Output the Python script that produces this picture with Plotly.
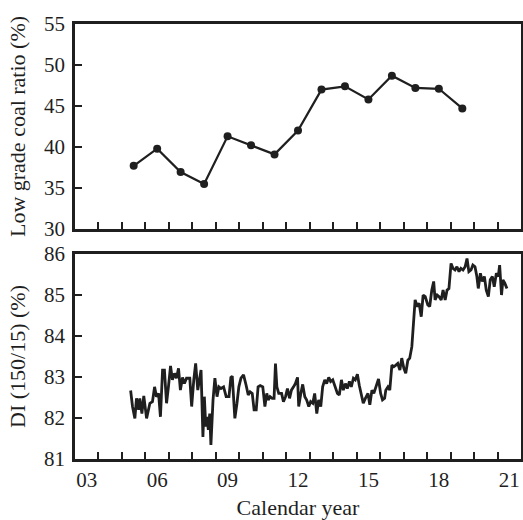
import plotly.graph_objects as go
from plotly.subplots import make_subplots

# ---- Top panel: low grade coal ratio (annual) ----
coal_years = [2005.5, 2006.5, 2007.5, 2008.5, 2009.5, 2010.5, 2011.5, 2012.5,
              2013.5, 2014.5, 2015.5, 2016.5, 2017.5, 2018.5, 2019.5]
coal_ratio = [37.7, 39.8, 36.95, 35.5, 41.3, 40.2, 39.1, 42.0,
              47.0, 47.4, 45.8, 48.7, 47.2, 47.1, 44.7]

# ---- Bottom panel: DI(150/15) ----
di_time = [2005.37, 2005.45, 2005.55, 2005.62, 2005.71, 2005.76, 2005.85, 2005.93,
           2006.05, 2006.19, 2006.30, 2006.39, 2006.47, 2006.56, 2006.64, 2006.73,
           2006.81, 2006.90, 2006.98, 2007.07, 2007.15, 2007.24, 2007.32, 2007.41,
           2007.49, 2007.58, 2007.66, 2007.75, 2007.89, 2007.97, 2008.06, 2008.14,
           2008.23, 2008.28, 2008.37, 2008.45, 2008.51, 2008.57, 2008.62, 2008.68,
           2008.74, 2008.79, 2008.88, 2008.96, 2009.05, 2009.13, 2009.22, 2009.33,
           2009.44, 2009.56, 2009.64, 2009.70, 2009.81, 2009.90, 2009.98, 2010.07,
           2010.18, 2010.29, 2010.38, 2010.46, 2010.55, 2010.63, 2010.72, 2010.80,
           2010.89, 2011.00, 2011.09, 2011.17, 2011.23, 2011.31, 2011.40, 2011.48,
           2011.54, 2011.60, 2011.68, 2011.80, 2011.88, 2011.97, 2012.05, 2012.14,
           2012.22, 2012.31, 2012.39, 2012.48, 2012.53, 2012.62, 2012.70, 2012.79,
           2012.87, 2012.96, 2013.04, 2013.13, 2013.21, 2013.30, 2013.38, 2013.47,
           2013.55, 2013.64, 2013.72, 2013.81, 2013.89, 2013.98, 2014.09, 2014.18,
           2014.26, 2014.35, 2014.43, 2014.52, 2014.60, 2014.69, 2014.77, 2014.86,
           2014.94, 2015.03, 2015.11, 2015.20, 2015.28, 2015.37, 2015.48, 2015.56,
           2015.65, 2015.73, 2015.82, 2015.93, 2016.02, 2016.10, 2016.19, 2016.24,
           2016.33, 2016.41, 2016.50, 2016.58, 2016.67, 2016.75, 2016.84, 2016.92,
           2017.01, 2017.09, 2017.18, 2017.26, 2017.35, 2017.43, 2017.49, 2017.58,
           2017.66, 2017.75, 2017.83, 2017.92, 2018.03, 2018.11, 2018.20, 2018.28,
           2018.34, 2018.43, 2018.51, 2018.60, 2018.68, 2018.77, 2018.85, 2018.93,
           2019.02, 2019.10, 2019.19, 2019.27, 2019.36, 2019.44, 2019.53, 2019.62,
           2019.70, 2019.78, 2019.87, 2019.95, 2020.04, 2020.12, 2020.18, 2020.27,
           2020.35, 2020.44, 2020.52, 2020.61, 2020.69, 2020.78, 2020.86, 2020.95,
           2021.03, 2021.09, 2021.17, 2021.23, 2021.31, 2021.40]
di_value = [82.67, 82.28, 81.99, 82.48, 82.20, 82.48, 82.11, 82.54,
            81.99, 82.36, 82.40, 82.76, 82.52, 82.60, 82.03, 83.17,
            83.17, 82.36, 82.76, 83.27, 82.93, 83.09, 82.97, 83.21,
            82.68, 82.99, 82.84, 82.97, 82.97, 82.28, 82.93, 83.33,
            82.68, 82.89, 83.17, 81.54, 82.52, 81.79, 82.03, 81.71,
            82.11, 81.34, 82.44, 82.97, 82.52, 82.76, 82.72, 82.76,
            82.52, 82.52, 82.99, 83.02, 81.99, 82.36, 82.76, 82.97,
            83.05, 82.80, 82.56, 82.64, 82.60, 82.20, 82.20, 82.76,
            82.79, 82.76, 82.28, 82.60, 82.44, 82.52, 82.48, 82.48,
            83.33, 82.76, 82.60, 82.60, 82.40, 82.52, 82.72, 82.48,
            82.68, 82.76, 82.84, 82.99, 82.28, 82.60, 82.82, 82.52,
            82.44, 82.28, 82.40, 82.36, 82.60, 82.11, 82.44, 82.28,
            82.76, 82.93, 82.84, 82.99, 82.89, 82.93, 82.76, 82.60,
            82.56, 82.93, 82.68, 82.84, 82.72, 82.89, 82.76, 82.97,
            82.93, 83.07, 82.80, 82.52, 82.36, 82.48, 82.60, 82.32,
            82.68, 82.60, 82.76, 82.95, 82.60, 82.44, 82.48, 82.68,
            82.76, 82.68, 83.29, 83.25, 83.29, 83.33, 83.17, 83.46,
            83.21, 83.09, 83.41, 83.46, 83.74, 84.47, 84.88, 84.72,
            84.80, 84.47, 85.00, 84.96, 84.76, 84.72, 85.12, 85.33,
            84.88, 85.00, 84.96, 84.88, 85.12, 84.88, 85.12, 85.16,
            85.77, 85.65, 85.61, 85.69, 85.57, 85.65, 85.61, 85.69,
            85.89, 85.57, 85.61, 85.73, 85.69, 85.45, 85.16, 85.53,
            85.33, 85.45, 85.12, 84.96, 85.37, 85.45, 85.20, 85.53,
            85.45, 85.73, 85.00, 85.37, 85.29, 85.16]

# ---- Axis ticks ----
year_ticks = list(range(2004, 2022))
label_pos = [2003.5, 2006.5, 2009.5, 2012.5, 2015.5, 2018.5, 2021.5]
label_text = ["03", "06", "09", "12", "15", "18", "21"]

INK = "#1f1f1f"
FONT = "Liberation Serif"

fig = make_subplots(rows=2, cols=1, vertical_spacing=0.0575, shared_xaxes=False)

fig.add_trace(go.Scatter(x=coal_years, y=coal_ratio, mode="lines+markers",
                         line=dict(color=INK, width=2.2),
                         marker=dict(color=INK, size=8),
                         showlegend=False), row=1, col=1)
fig.add_trace(go.Scatter(x=di_time, y=di_value, mode="lines",
                         line=dict(color=INK, width=2.8),
                         showlegend=False), row=2, col=1)

common_x = dict(range=[2003, 2022], showgrid=False, zeroline=False,
                showline=True, linecolor=INK, linewidth=2.5, mirror=True,
                tickmode="array", tickvals=label_pos, ticktext=label_text,
                ticks="", ticklen=0, automargin=False,
                minor=dict(tickmode="array", tickvals=year_ticks, ticks="inside",
                           ticklen=7, tickwidth=1.5, tickcolor=INK, showgrid=False),
                tickfont=dict(family=FONT, size=21, color=INK))
fig.update_xaxes(**common_x)
fig.update_xaxes(showticklabels=False, row=1, col=1)
fig.update_xaxes(title=dict(text="Calendar year", font=dict(family=FONT, size=22, color=INK),
                            standoff=13), row=2, col=1)

common_y = dict(showgrid=False, zeroline=False, showline=True, linecolor=INK,
                linewidth=2.5, mirror=True, ticks="inside", ticklen=7,
                tickwidth=1.5, tickcolor=INK, automargin=False, ticklabelstandoff=3,
                tickfont=dict(family=FONT, size=21, color=INK))
fig.update_yaxes(**common_y)
fig.update_yaxes(range=[30, 55], dtick=5, tick0=30,
                 title=dict(text="Low grade coal ratio (%)",
                            font=dict(family=FONT, size=22, color=INK), standoff=13),
                 row=1, col=1)
fig.update_yaxes(range=[81, 86], dtick=1, tick0=81,
                 title=dict(text="DI (150/15) (%)",
                            font=dict(family=FONT, size=22, color=INK), standoff=13),
                 row=2, col=1)

fig.update_layout(width=523, height=520, margin=dict(l=75, r=2, t=24, b=61),
                  plot_bgcolor="white", paper_bgcolor="white",
                  font=dict(family=FONT, color=INK))

fig.write_html("out.html", config={"displayModeBar": False},
               post_script="document.body.style.margin='0';")
